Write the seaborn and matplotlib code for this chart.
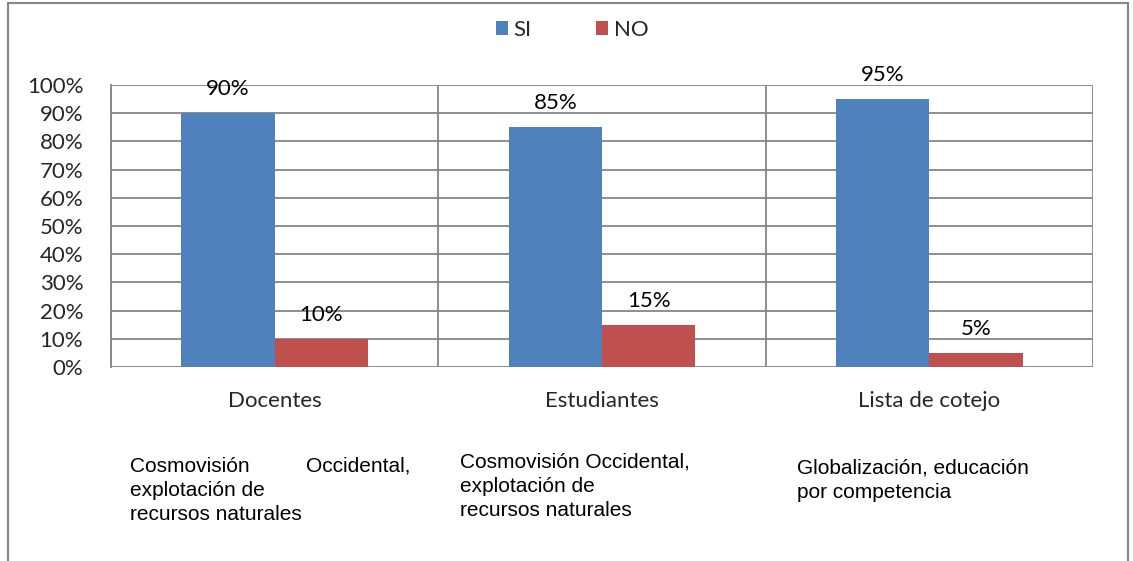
import pandas as pd
import matplotlib
matplotlib.use("Agg")
import matplotlib.pyplot as plt
import seaborn as sns
from matplotlib.lines import Line2D
from matplotlib.ticker import PercentFormatter

# Chart data
categories = ["Docentes", "Estudiantes", "Lista de cotejo"]
si_values = [0.90, 0.85, 0.95]
no_values = [0.10, 0.15, 0.05]
series_names = ["SI", "NO"]
notes = [
    ["Cosmovisión Occidental,", "explotación de", "recursos naturales"],
    ["Cosmovisión Occidental,", "explotación de", "recursos naturales"],
    ["Globalización, educación", "por competencia"],
]

# Long-form table for seaborn
df = pd.DataFrame({
    "categoria": categories * 2,
    "serie": [series_names[0]] * 3 + [series_names[1]] * 3,
    "valor": si_values + no_values,
})

sns.set_style("white")
plt.rcParams["font.family"] = ["Lato", "DejaVu Sans"]

GRID = "#868686"
W, H = 1133, 561
fig = plt.figure(figsize=(W / 100, H / 100), dpi=100)
ax = fig.add_axes([111 / W, 1 - 367 / H, (1093 - 111) / W, (367 - 85) / H])

sns.barplot(data=df, x="categoria", y="valor", hue="serie", order=categories,
            hue_order=series_names, palette=["#4F81BD", "#C0504D"],
            width=0.57, gap=0, saturation=1, linewidth=0, ax=ax, legend=True)

for cont in ax.containers:
    ax.bar_label(cont, labels=[f"{v * 100:.0f}%" for v in cont.datavalues],
                 padding=10, fontsize=16, color="black")

ax.set_xlim(-0.5, 2.5)
ax.set_ylim(0, 1)
ax.set_yticks([i / 10 for i in range(11)])
ax.yaxis.set_major_formatter(PercentFormatter(1.0, decimals=0))
ax.set_xlabel("")
ax.set_ylabel("")

for s in ["top", "right", "bottom"]:
    ax.spines[s].set_visible(False)
ax.spines["left"].set_color(GRID)
ax.spines["left"].set_linewidth(1.3)

ax.set_axisbelow(True)
ax.grid(axis="y", color=GRID, linewidth=1.3)
ax.set_xticks([-0.5, 0.5, 1.5, 2.5], minor=True)
ax.grid(axis="x", which="minor", color=GRID, linewidth=1.3)
ax.grid(axis="x", which="major", visible=False)
ax.tick_params(axis="x", which="minor", length=6, width=1.3, color=GRID, direction="out")
ax.tick_params(axis="x", which="major", length=0, pad=17, labelsize=16)
ax.tick_params(axis="y", length=7, width=1.3, color=GRID, direction="out", pad=13, labelsize=16)

leg = ax.legend(loc="center", bbox_to_anchor=(0.505, 1 - 30 / H), bbox_transform=fig.transFigure,
                ncol=2, frameon=False, fontsize=16, handlelength=0.55, handleheight=0.55,
                columnspacing=2.9, handletextpad=0.25)

# Notes under each category
note_font = dict(family="Liberation Sans", fontsize=15, color="black", va="center", ha="left")
xs = [130, 460, 797]
tops = [466, 462, 468]
for x, y0, lines in zip(xs, tops, notes):
    for j, line in enumerate(lines):
        y = 1 - (y0 + j * 24) / H
        if j == 0 and x == 130:
            a, b = line.split(" ")
            fig.text(x / W, y, a, **note_font)
            fig.text(410 / W, y, b, **{**note_font, "ha": "right"})
        else:
            fig.text(x / W, y, line, **note_font)

# Outer chart border (left, top, right)
for xd, yd in [([8, 8], [561, 3]), ([8, 1128], [3, 3]), ([1128, 1128], [3, 561])]:
    fig.add_artist(Line2D([x / W for x in xd], [1 - y / H for y in yd],
                          color=GRID, linewidth=1.5, transform=fig.transFigure))

fig.savefig("out.png", dpi=100)
